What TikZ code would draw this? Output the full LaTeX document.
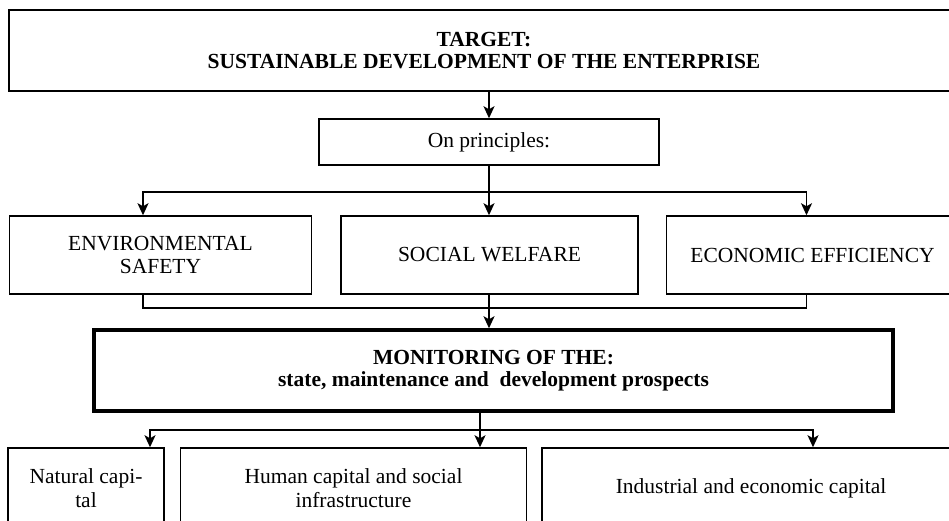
\documentclass[tikz,border=0pt]{standalone}
\usepackage{fontspec}
\setmainfont{Liberation Serif}
\usetikzlibrary{arrows.meta, positioning, calc}
\tikzset{
    box/.style={rectangle, draw, line width=1.5pt, inner sep=2pt, align=center, font=\fontsize{21.5}{23.5}\selectfont},
    arrow/.style={line width=1.5pt, -{Stealth[length=12pt, width=11pt, inset=3pt]}},
    link/.style={line width=1.5pt}
}

\begin{document}
\begin{tikzpicture}[x=1pt, y=-1pt, node distance=28pt]
    \useasboundingbox (0,0) rectangle (949,521);
    \clip (0,0) rectangle (949,521);

    % goal and principles
    \node (target) [box, line width=2pt, minimum width=950pt, minimum height=81pt, font=\bfseries\fontsize{21.5}{21.5}\selectfont] at (484,50.5) {TARGET:\\SUSTAINABLE DEVELOPMENT OF THE ENTERPRISE};
    \node (principles) [box, minimum width=340pt, minimum height=46pt] at (489,142) {On principles:};
    \node (env) [box, minimum width=302pt, minimum height=78pt] at (160.5,255) {ENVIRONMENTAL\\SAFETY};
    \node (social) [box, minimum width=297pt, minimum height=78pt, right=28pt of env] {SOCIAL WELFARE};
    \node (econ) [box, minimum width=292pt, minimum height=78pt, right=27pt of social] {ECONOMIC EFFICIENCY};

    % monitoring and capitals
    \node (monitor) [box, line width=3.5pt, minimum width=799pt, minimum height=81pt, font=\bfseries\fontsize{21.5}{22.5}\selectfont] at (493.5,370.5) {MONITORING OF THE:\\state, maintenance and~~development prospects};
    \node (natural) [box, minimum width=156pt, minimum height=80pt] at (86,488) {Natural capi-\\tal};
    \node (human) [box, minimum width=346pt, minimum height=80pt, right=15pt of natural] {Human capital and social\\infrastructure};
    \node (industrial) [box, minimum width=418pt, minimum height=80pt, right=14pt of human] {Industrial and economic capital};

    \coordinate (fork) at (489,192);
    \coordinate (join) at (489,308);
    \coordinate (split) at (480,430);

    \draw [arrow] (target.south -| principles) -- (principles);
    \draw [link] (principles) -- (fork);
    \draw [arrow] (fork) -| ([xshift=-17.5pt]env.north);
    \draw [arrow] (fork) -- (fork |- social.north);
    \draw [arrow] (fork) -| ([xshift=-6pt]econ.north);
    \draw [link] ([xshift=-17.5pt]env.south) |- (join) -| ([xshift=-6pt]econ.south);
    \draw [arrow] (join |- social.south) -- (join |- monitor.north);
    \draw [link] (split |- monitor.south) -- (split);
    \draw [arrow] (split) -| ([xshift=64pt]natural.north);
    \draw [arrow] (split) -- (split |- human.north);
    \draw [arrow] (split) -| ([xshift=62pt]industrial.north);
\end{tikzpicture}
\end{document}
